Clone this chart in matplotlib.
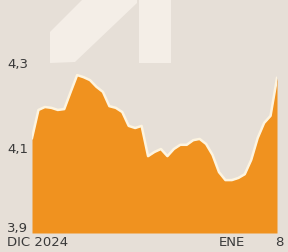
import matplotlib.pyplot as plt
import numpy as np
from matplotlib.patches import Polygon

# Valores diarios, 1 dic 2024 - 8 ene 2025
dias = np.arange(39)
valores = [4.126, 4.193, 4.200, 4.198, 4.193, 4.195, 4.236, 4.276, 4.271, 4.264,
           4.248, 4.236, 4.202, 4.198, 4.188, 4.155, 4.150, 4.155, 4.083, 4.093,
           4.100, 4.083, 4.100, 4.110, 4.110, 4.121, 4.124, 4.112, 4.086, 4.045,
           4.026, 4.026, 4.031, 4.040, 4.074, 4.126, 4.162, 4.179, 4.269]
y_ticks = [3.9, 4.1, 4.3]
y_labels = ['3,9', '4,1', '4,3']
x_ticks = [0, 31, 38]
x_labels = ['DIC 2024', 'ENE', '8']

plt.rcParams['font.family'] = ['Liberation Sans Narrow', 'DejaVu Sans']

fondo = '#e6dfd7'
naranja = '#f0921f'

fig = plt.figure(figsize=(2.88, 2.52), dpi=100, facecolor=fondo)

# marca de agua de fondo
W, H = 288, 252
forma1 = [(50, 32), (82, 0), (137, 0), (137, 3), (75, 62), (50, 63)]
forma2 = [(139, 0), (171, 0), (171, 63), (139, 63)]
for f in (forma1, forma2):
    pts = [(x / W, 1 - y / H) for x, y in f]
    fig.patches.append(Polygon(pts, closed=True, transform=fig.transFigure,
                               facecolor='#f4eee7', edgecolor='none', zorder=0))

ax = fig.add_axes([32 / W, 19 / H, 245 / W, 189 / H])
ax.set_facecolor('none')
ax.fill_between(dias, 3.9, valores, color=naranja, lw=0, zorder=2)
ax.plot(dias, valores, color='#fdf4e0', lw=1.8, zorder=3, solid_joinstyle='round')
ax.set_xlim(0, 38)
ax.set_ylim(3.9, 4.35)
for s in ax.spines.values():
    s.set_visible(False)
ax.set_xticks([])
ax.set_yticks([])

for v, lab in zip(y_ticks, y_labels):
    off = 4 if v == 3.9 else 0
    ax.annotate(lab, xy=(0, v), xycoords=('axes fraction', 'data'),
                xytext=(-25, off), textcoords='offset pixels',
                ha='left', va='center', fontsize=9.5, color='#3a3a3a')

for i, (d, lab) in enumerate(zip(x_ticks, x_labels)):
    ha = 'left' if i == 0 else 'center'
    dx = -25 if i == 0 else (2 if i == 2 else 0)
    ax.annotate(lab, xy=(d, 0), xycoords=('data', 'axes fraction'),
                xytext=(dx, -10), textcoords='offset pixels',
                ha=ha, va='center', fontsize=9.5, color='#3a3a3a')

fig.savefig('out.png', dpi=100, facecolor=fondo)
